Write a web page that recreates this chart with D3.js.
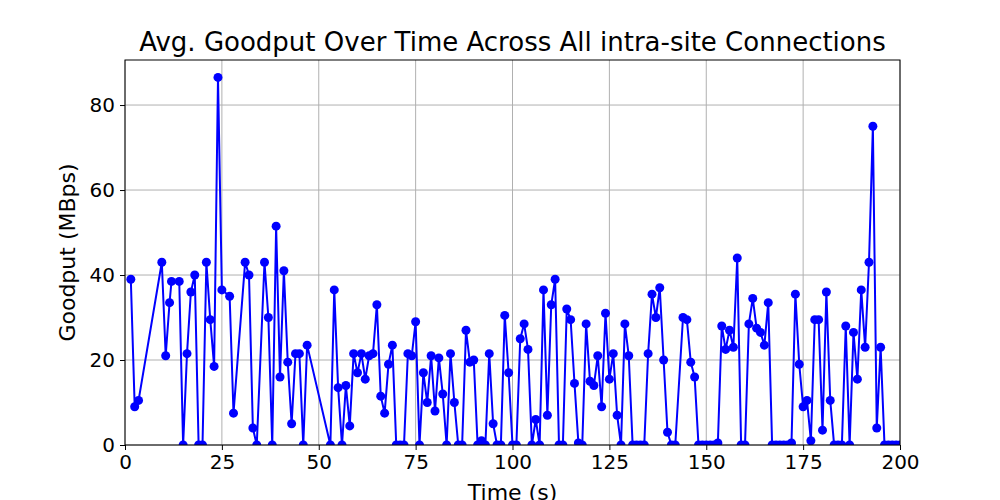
<!DOCTYPE html>
<html>
<head>
<meta charset="utf-8">
<script src="https://cdn.jsdelivr.net/npm/d3@7"></script>
<style>
  body { margin: 0; background: #fff; }
  text { font-family: "DejaVu Sans", sans-serif; }
</style>
</head>
<body>
<svg id="chart" width="1000" height="500"></svg>
<script>
// time (s) and goodput (MBps)
const times = [1.5,2.5,3.5,9.5,10.5,11.5,12,14,15,16,17,18,19,20,21,22,23,24,25,27,28,31,32,33,34,36,37,38,39,40,41,42,43,44,45,46,47,
  53,54,55,56,57,58,59,60,61,62,63,64,65,66,67,68,69,70,71,72,73,74,75,76,77,78,79,80,81,82,83,84,85,86,87,88,89,90,91,92,93,94,95,96,97,98,99,
  100,101,102,103,104,105,106,107,108,109,110,111,112,113,114,115,116,117,118,119,120,121,122,123,124,125,126,127,128,129,130,131,132,133,134,135,136,137,138,139,140,141,142,
  144,145,146,147,148,149,150,151,152,153,154,155,156,157,158,159,160,161,162,163,164,165,166,167,168,169,170,171,172,173,174,175,176,177,178,179,180,181,182,183,184,185,186,187,188,189,190,191,192,193,194,195,196,197,198,199,200];
const goodput = [39,9,10.5,43,21,33.5,38.5,38.5,0,21.5,36,40,0,0,43,29.5,18.5,86.5,36.5,35,7.5,43,40,4,0,43,30,0,51.5,16,41,19.5,5,21.5,21.5,0,23.5,
  0,36.5,13.5,0,14,4.5,21.5,17,21.5,15.5,21,21.5,33,11.5,7.5,19,23.5,0,0,0,21.5,21,29,0,17,10,21,8,20.5,12,0,21.5,10,0,0,27,19.5,20,0,1,0,21.5,5,0,0,30.5,17,
  0,0,25,28.5,22.5,0,6,0,36.5,7,33,39,0,0,32,29.5,14.5,0.5,0,28.5,15,14,21,9,31,15.5,21.5,7,0,28.5,21,0,0,0,0,21.5,35.5,30,37,20,3,0,0,
  30,29.5,19.5,16,0,0,0,0,0,0.5,28,22.5,27,23,44,0,0,28.5,34.5,27.5,26.5,23.5,33.5,0,0,0,0,0,0.5,35.5,19,9,10.5,1,29.5,29.5,3.5,36,10.5,0,0,0,28,0,26.5,15.5,36.5,23,43,75,4,23,0,0,0,0,0];
const xTicks = [0,25,50,75,100,125,150,175,200];
const yTicks = [0,20,40,60,80];

const data = times.map((t, i) => ({t: t, v: goodput[i]}));
const svg = d3.select("#chart");
const mLeft = 125, mRight = 900, mTop = 60, mBottom = 445;

const x = d3.scaleLinear().domain([0, 200]).range([mLeft, mRight]);
const y = d3.scaleLinear().domain([0, 90.6]).range([mBottom, mTop]);

// grid
svg.append("g").selectAll("line").data(xTicks).join("line")
  .attr("x1", d => x(d)).attr("x2", d => x(d)).attr("y1", mTop).attr("y2", mBottom)
  .attr("stroke", "#b0b0b0").attr("stroke-width", 1);
svg.append("g").selectAll("line").data(yTicks).join("line")
  .attr("x1", mLeft).attr("x2", mRight).attr("y1", d => y(d)).attr("y2", d => y(d))
  .attr("stroke", "#b0b0b0").attr("stroke-width", 1);

const plot = svg.append("g");
plot.append("clipPath").attr("id", "clip").append("rect")
  .attr("x", mLeft).attr("y", mTop - 5).attr("width", mRight - mLeft).attr("height", mBottom - mTop + 5);
const inner = plot.append("g").attr("clip-path", "url(#clip)");

inner.append("path").datum(data)
  .attr("d", d3.line().x(d => x(d.t)).y(d => y(d.v)))
  .attr("fill", "none").attr("stroke", "#0000ff").attr("stroke-width", 2);
inner.selectAll("circle").data(data).join("circle")
  .attr("cx", d => x(d.t)).attr("cy", d => y(d.v)).attr("r", 4.5).attr("fill", "#0000ff");

// axes
const xAxis = svg.append("g").attr("transform", `translate(0,${mBottom})`)
  .call(d3.axisBottom(x).tickValues(xTicks).tickSize(5).tickPadding(5));
const yAxis = svg.append("g").attr("transform", `translate(${mLeft},0)`)
  .call(d3.axisLeft(y).tickValues(yTicks).tickSize(5).tickPadding(5));
[xAxis, yAxis].forEach(a => {
  a.select(".domain").remove();
  a.selectAll("text").attr("font-size", 20).attr("fill", "#000").style("font-family", "DejaVu Sans");
  a.selectAll("line").attr("stroke", "#000");
});

svg.append("rect").attr("x", mLeft).attr("y", mTop).attr("width", mRight - mLeft).attr("height", mBottom - mTop)
  .attr("fill", "none").attr("stroke", "#000").attr("stroke-width", 1);

svg.append("text").attr("x", (mLeft + mRight) / 2).attr("y", 51).attr("text-anchor", "middle")
  .attr("font-size", 26).text("Avg. Goodput Over Time Across All intra-site Connections");
svg.append("text").attr("x", (mLeft + mRight) / 2).attr("y", 500).attr("text-anchor", "middle")
  .attr("font-size", 22).text("Time (s)");
svg.append("text").attr("transform", `translate(75,${(mTop + mBottom) / 2}) rotate(-90)`)
  .attr("text-anchor", "middle").attr("font-size", 22).text("Goodput (MBps)");
</script>
</body>
</html>
